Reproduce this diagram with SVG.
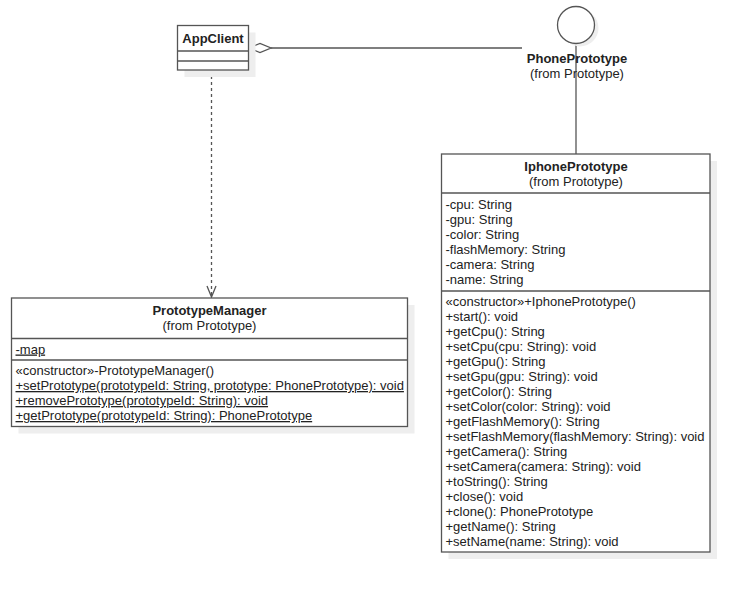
<svg xmlns="http://www.w3.org/2000/svg" width="749" height="594" viewBox="0 0 749 594">
  <defs>
    <style>
      .box { fill: #ffffff; stroke: #555555; stroke-width: 1.3; }
      .shadow { fill: #eeeeee; stroke: none; }
      .sep { stroke: #555555; stroke-width: 1.3; }
      .conn { stroke: #555555; stroke-width: 1.3; fill: none; }
      text { font-family: "Liberation Sans", Arial, sans-serif; font-size: 13px; fill: #222222; }
      .title { font-weight: bold; text-anchor: middle; }
      .sub { text-anchor: middle; }
      .u { text-decoration: underline; }
    </style>
  </defs>
  <rect width="749" height="594" fill="#ffffff"/>

  <g id="connectors">
    <!-- aggregation AppClient - PhonePrototype -->
    <line class="conn" x1="271" y1="48" x2="522" y2="48"/>
    <polygon points="248.5,48 260,43.5 271,48 260,52.5" fill="#ffffff" stroke="#555555" stroke-width="1.3"/>
    <!-- realization lollipop line -->
    <line class="conn" x1="576" y1="43.5" x2="576" y2="154"/>
    <!-- dependency AppClient -> PrototypeManager -->
    <line class="conn" x1="211.5" y1="70" x2="211.5" y2="297" stroke-dasharray="3,3"/>
    <polyline class="conn" points="207,286 211.5,297 216,286"/>
  </g>

  <g id="AppClient">
    <rect class="shadow" x="184.5" y="32.5" width="71" height="44.5"/>
    <rect class="box" x="177.5" y="25.5" width="71" height="44.5"/>
    <line class="sep" x1="177.5" y1="51" x2="248.5" y2="51"/>
    <line class="sep" x1="177.5" y1="61" x2="248.5" y2="61"/>
    <text class="title" x="213" y="43">AppClient</text>
  </g>

  <g id="PhonePrototype">
    <circle cx="580" cy="28" r="18.5" fill="#eeeeee"/>
    <circle cx="576" cy="25" r="18.5" fill="#ffffff" stroke="#555555" stroke-width="1.3"/>
    <text class="title" x="577" y="63">PhonePrototype</text>
    <text class="sub" x="577" y="77.5">(from Prototype)</text>
  </g>

  <g id="PrototypeManager">
    <rect class="shadow" x="18.5" y="305" width="396" height="128.5"/>
    <rect class="box" x="11.5" y="298" width="396" height="128.5"/>
    <line class="sep" x1="11.5" y1="338.5" x2="407.5" y2="338.5"/>
    <line class="sep" x1="11.5" y1="360" x2="407.5" y2="360"/>
    <text class="title" x="209.5" y="314.5">PrototypeManager</text>
    <text class="sub" x="209.5" y="330">(from Prototype)</text>
    <text class="u" x="15.5" y="353.5">-map</text>
    <text x="15.5" y="375">«constructor»-PrototypeManager()</text>
    <text class="u" x="15.5" y="390">+setPrototype(prototypeId: String, prototype: PhonePrototype): void</text>
    <text class="u" x="15.5" y="405">+removePrototype(prototypeId: String): void</text>
    <text class="u" x="15.5" y="420">+getPrototype(prototypeId: String): PhonePrototype</text>
  </g>

  <g id="IphonePrototype">
    <rect class="shadow" x="448.5" y="161" width="268.5" height="398"/>
    <rect class="box" x="441.5" y="154" width="268.5" height="398"/>
    <line class="sep" x1="441.5" y1="193" x2="710" y2="193"/>
    <line class="sep" x1="441.5" y1="291" x2="710" y2="291"/>
    <text class="title" x="576" y="170.5">IphonePrototype</text>
    <text class="sub" x="576" y="186">(from Prototype)</text>
    <text x="445.5" y="209">-cpu: String</text>
    <text x="445.5" y="224">-gpu: String</text>
    <text x="445.5" y="239">-color: String</text>
    <text x="445.5" y="254">-flashMemory: String</text>
    <text x="445.5" y="269">-camera: String</text>
    <text x="445.5" y="284">-name: String</text>
    <text x="445.5" y="306">«constructor»+IphonePrototype()</text>
    <text x="445.5" y="321">+start(): void</text>
    <text x="445.5" y="336">+getCpu(): String</text>
    <text x="445.5" y="351">+setCpu(cpu: String): void</text>
    <text x="445.5" y="366">+getGpu(): String</text>
    <text x="445.5" y="381">+setGpu(gpu: String): void</text>
    <text x="445.5" y="396">+getColor(): String</text>
    <text x="445.5" y="411">+setColor(color: String): void</text>
    <text x="445.5" y="426">+getFlashMemory(): String</text>
    <text x="445.5" y="441">+setFlashMemory(flashMemory: String): void</text>
    <text x="445.5" y="456">+getCamera(): String</text>
    <text x="445.5" y="471">+setCamera(camera: String): void</text>
    <text x="445.5" y="486">+toString(): String</text>
    <text x="445.5" y="501">+close(): void</text>
    <text x="445.5" y="516">+clone(): PhonePrototype</text>
    <text x="445.5" y="531">+getName(): String</text>
    <text x="445.5" y="546">+setName(name: String): void</text>
  </g>
</svg>
